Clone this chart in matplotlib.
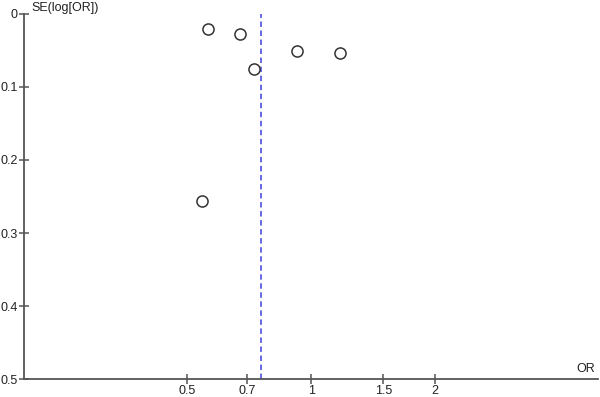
import matplotlib.pyplot as plt
from matplotlib.ticker import FixedLocator, NullLocator

plt.rcParams['font.family'] = ['Liberation Sans', 'DejaVu Sans']

# study estimates
odds_ratio = [0.562, 0.670, 0.925, 1.173, 0.727, 0.542]
se_log_or = [0.020, 0.028, 0.051, 0.054, 0.075, 0.256]
pooled_or = 0.757

x_ticks = [0.5, 0.7, 1, 1.5, 2]
x_labels = ["0.5", "0.7", "1", "1.5", "2"]
y_ticks = [0, 0.1, 0.2, 0.3, 0.4, 0.5]
y_labels = ["0", "0.1", "0.2", "0.3", "0.4", "0.5"]

fig = plt.figure(figsize=(6, 3.97), dpi=100)
ax = fig.add_axes([0.04, 0.045, 0.957, 0.92])

ax.plot(odds_ratio, se_log_or, 'o', ms=8, mfc='white', mec='#333333', mew=1.1,
        linestyle='none', zorder=3)
ax.axvline(pooled_or, color='#5a5ae0', ls=(0, (3, 2)), lw=1.3, zorder=2)

ax.set_xscale('log')
ax.set_xlim(0.2, 5)
ax.set_ylim(0.5, 0)
ax.xaxis.set_major_locator(FixedLocator(x_ticks))
ax.xaxis.set_minor_locator(NullLocator())
ax.set_xticklabels(x_labels)
ax.set_yticks(y_ticks)
ax.set_yticklabels(y_labels)

for s in ['top', 'right']:
    ax.spines[s].set_visible(False)
for s in ['left', 'bottom']:
    ax.spines[s].set_color('#555555')
    ax.spines[s].set_linewidth(1.3)
ax.tick_params(direction='inout', length=7, width=1.1, color='#555555',
               labelsize=9, labelcolor='#222222', pad=1)

ax.text(0.013, 1.0, 'SE(log[OR])', transform=ax.transAxes, fontsize=9,
        color='#222222', va='bottom', ha='left')
ax.text(0.995, 0.01, 'OR', transform=ax.transAxes, fontsize=9,
        color='#222222', va='bottom', ha='right')

fig.savefig('out.png', dpi=100)
